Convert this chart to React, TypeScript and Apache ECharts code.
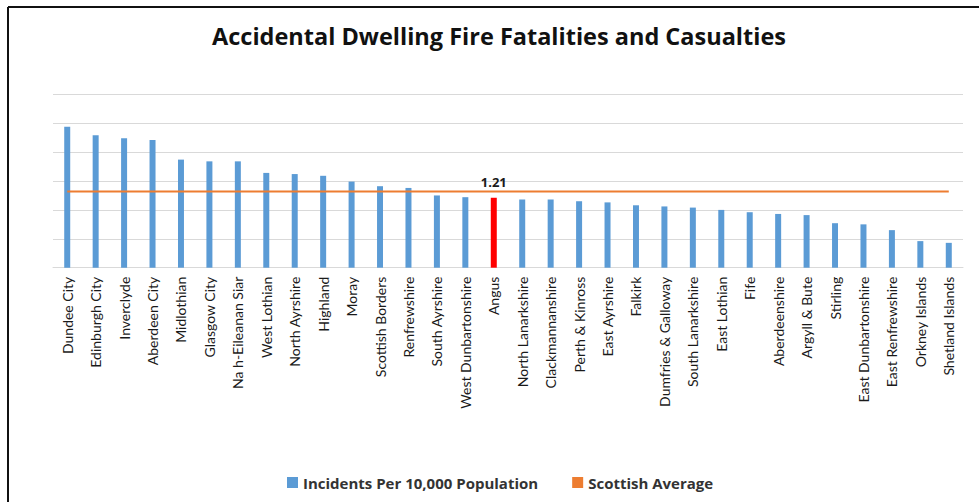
import React, { useEffect, useRef } from "react";
import * as echarts from "echarts";

// Local authority areas, ordered by rate
const areas: string[] = [
  "Dundee City", "Edinburgh City", "Inverclyde", "Aberdeen City", "Midlothian",
  "Glasgow City", "Na h-Eileanan Siar", "West Lothian", "North Ayrshire", "Highland",
  "Moray", "Scottish Borders", "Renfrewshire", "South Ayrshire", "West Dunbartonshire",
  "Angus", "North Lanarkshire", "Clackmannanshire", "Perth & Kinross", "East Ayrshire",
  "Falkirk", "Dumfries & Galloway", "South Lanarkshire", "East Lothian", "Fife",
  "Aberdeenshire", "Argyll & Bute", "Stirling", "East Dunbartonshire", "East Renfrewshire",
  "Orkney Islands", "Shetland Islands",
];

// Incidents per 10,000 population
const incidents: number[] = [
  2.44, 2.29, 2.24, 2.21, 1.87,
  1.84, 1.84, 1.64, 1.62, 1.59,
  1.49, 1.41, 1.38, 1.25, 1.22,
  1.21, 1.18, 1.18, 1.15, 1.13,
  1.08, 1.06, 1.04, 1.0, 0.96,
  0.93, 0.91, 0.77, 0.75, 0.65,
  0.46, 0.43,
];

const scottishAverage = 1.32;
const highlightArea = "Angus";

const BLUE = "#5b9bd5";
const ORANGE = "#ed7d31";
const RED = "#ff0000";

export default function App() {
  const ref = useRef<HTMLDivElement>(null);

  useEffect(() => {
    if (!ref.current) return;
    const chart = echarts.init(ref.current, null, { renderer: "svg" });

    const barData = incidents.map((v, i) =>
      areas[i] === highlightArea
        ? {
            value: v,
            itemStyle: { color: RED },
            label: {
              show: true,
              position: "top",
              distance: 9,
              formatter: (p: any) => p.value.toFixed(2),
              fontFamily: "Open Sans",
              fontWeight: "bold",
              fontSize: 13,
              color: "#1a1a1a",
            },
          }
        : v
    );

    chart.setOption({
      animation: false,
      backgroundColor: "#ffffff",
      title: {
        text: "Accidental Dwelling Fire Fatalities and Casualties",
        left: 207,
        top: 17,
        textStyle: {
          fontFamily: "Open Sans",
          fontWeight: "bold",
          fontSize: 23.5,
          color: "#111111",
          lineHeight: 28,
        },
      },
      legend: {
        left: 282,
        top: 470,
        itemWidth: 11,
        itemHeight: 11,
        itemGap: 34,
        textStyle: {
          fontFamily: "Open Sans",
          fontWeight: "bold",
          fontSize: 15,
          color: "#333333",
        },
        data: [
          { name: "Incidents Per 10,000 Population", icon: "rect" },
          { name: "Scottish Average", icon: "rect" },
        ],
      },
      grid: {
        left: 53,
        right: 16,
        top: 94.3,
        bottom: 234.3,
        containLabel: false,
      },
      xAxis: {
        type: "category",
        data: areas,
        boundaryGap: true,
        axisTick: { show: false },
        axisLine: { lineStyle: { color: "#d9d9d9", width: 1 } },
        axisLabel: {
          rotate: 90,
          margin: 9,
          interval: 0,
          fontFamily: "Lato",
          fontSize: 14,
          color: "#1a1a1a",
        },
      },
      yAxis: {
        type: "value",
        min: 0,
        max: 3,
        interval: 0.5,
        axisLabel: { show: false },
        axisLine: { show: false },
        axisTick: { show: false },
        splitLine: { lineStyle: { color: "#d9d9d9", width: 1 } },
      },
      series: [
        {
          name: "Incidents Per 10,000 Population",
          type: "bar",
          data: barData,
          barWidth: 6,
          itemStyle: { color: BLUE },
        },
        {
          name: "Scottish Average",
          type: "line",
          data: areas.map(() => scottishAverage),
          showSymbol: false,
          symbol: "none",
          lineStyle: { color: ORANGE, width: 2 },
          itemStyle: { color: ORANGE },
          z: 3,
        },
      ],
      graphic: [
        {
          type: "line",
          shape: { x1: 8, y1: 7, x2: 979, y2: 7 },
          style: { stroke: "#111111", lineWidth: 2 },
        },
        {
          type: "line",
          shape: { x1: 8, y1: 7, x2: 8, y2: 502 },
          style: { stroke: "#111111", lineWidth: 2 },
        },
      ],
    });

    return () => chart.dispose();
  }, []);

  return (
    <div
      ref={ref}
      style={{ position: "fixed", left: 0, top: 0, width: 979, height: 502 }}
    />
  );
}
